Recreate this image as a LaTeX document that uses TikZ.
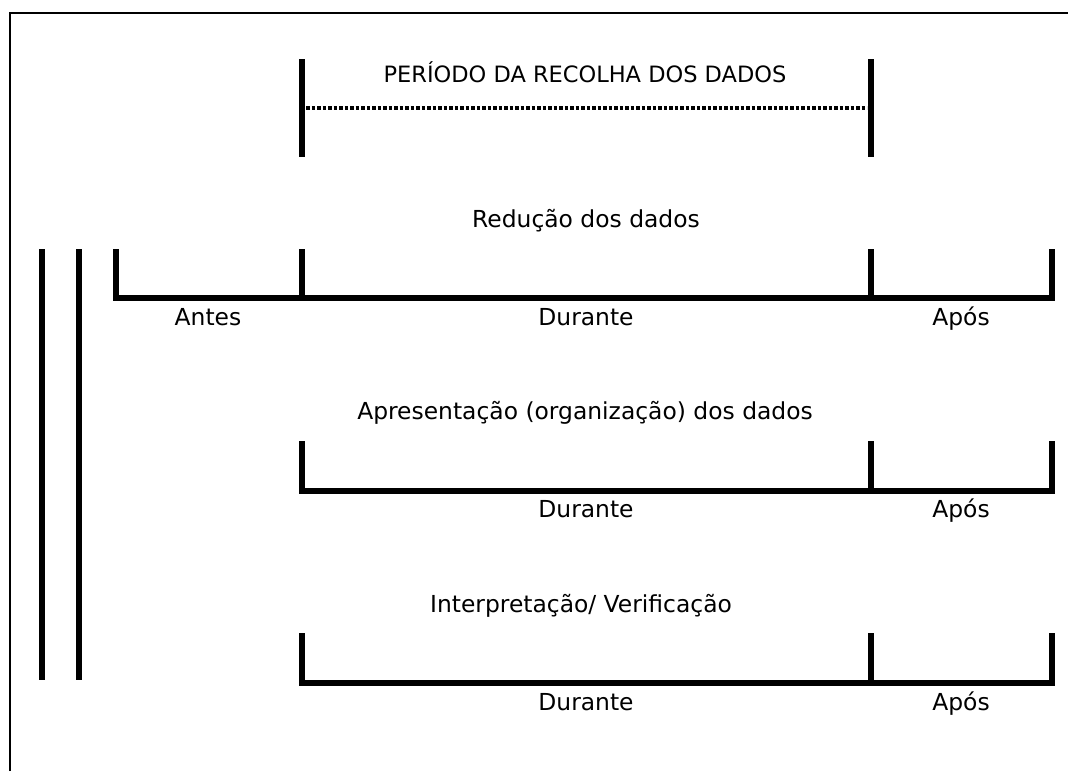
\documentclass[tikz,border=0pt]{standalone}
\usepackage{fontspec}
\setmainfont{DejaVu Sans}
\begin{document}
\begin{tikzpicture}[x=1pt,y=-1pt,
  lbl/.style={anchor=base,inner sep=0pt,font=\fontsize{23.4}{27}\selectfont},
  bar/.style={line width=6pt,line cap=butt,line join=miter},
  frameline/.style={line width=2pt},
  dotline/.style={line width=4.5pt,dash pattern=on 3.5pt off 2pt}]
\useasboundingbox (0,0) rectangle (1068,771);
% frame
\draw[frameline] (9.5,771) -- (9.5,12.7) -- (1068,12.7);
% period of data collection
\draw[bar] (302,59) -- (302,157);
\draw[bar] (871,59) -- (871,157);
\draw[dotline] (306,108) -- (867,108);
\node[lbl,font=\fontsize{22.5}{26}\selectfont] (periodo) at (585,82) {PERÍODO DA RECOLHA DOS DADOS};
% long verticals
\draw[bar] (42,249) -- (42,680);
\draw[bar] (79,249) -- (79,680);
% row 1
\node[lbl] (reducao) at (586,227) {Redução dos dados};
\draw[bar] (115.7,249) -- (115.7,298) -- (1052,298) -- (1052,249);
\draw[bar] (302,249) -- (302,298);
\draw[bar] (871,249) -- (871,298);
\node[lbl] (antes1) at (208,325) {Antes};
\node[lbl] (durante1) at (586,325) {Durante};
\node[lbl] (apos1) at (961,325) {Após};
% row 2
\node[lbl] (apres) at (585,419) {Apresentação (organização) dos dados};
\draw[bar] (302,441) -- (302,491) -- (1052,491) -- (1052,441);
\draw[bar] (871,441) -- (871,491);
\node[lbl] (durante2) at (586,517) {Durante};
\node[lbl] (apos2) at (961,517) {Após};
% row 3
\node[lbl] (interp) at (581,612) {Interpretação/ Verificação};
\draw[bar] (302,633) -- (302,683) -- (1052,683) -- (1052,633);
\draw[bar] (871,633) -- (871,683);
\node[lbl] (durante3) at (586,710) {Durante};
\node[lbl] (apos3) at (961,710) {Após};
\end{tikzpicture}
\end{document}
